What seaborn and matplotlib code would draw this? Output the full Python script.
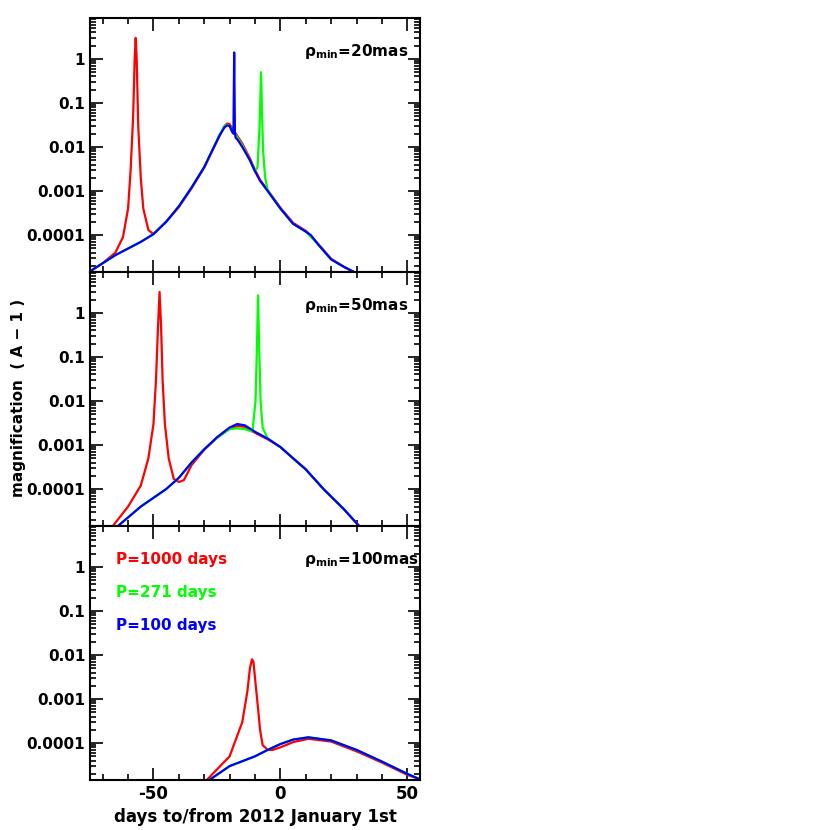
import matplotlib
matplotlib.use("Agg")
import matplotlib.pyplot as plt
import seaborn as sns
import pandas as pd
from matplotlib.ticker import LogLocator, FixedLocator, MultipleLocator, NullFormatter

# ---- data: (x days, A-1) ----
p1_blue_x = [-75,-65,-55,-50,-45,-40,-35,-30,-27,-24,-22,-21,-20,-19,-18.5,-18.2,-17.9,-17.6,-17,-15,-12,-10,-8,-5,0,5,10,12,15,20,25,29]
p1_blue_y = [1.5e-5,3.5e-5,7e-5,1.05e-4,2e-4,4.5e-4,1.2e-3,3.5e-3,8e-3,0.018,0.028,0.031,0.03,0.022,0.02,1.4,0.02,0.016,0.015,0.01,0.005,0.0028,0.0017,1e-3,4e-4,1.8e-4,1.2e-4,1e-4,6e-5,2.8e-5,1.9e-5,1.45e-5]
p1_red_x = [-75,-70,-65,-62,-60,-59,-58,-57.4,-57,-56.6,-56,-55,-54,-52,-50,-45,-40,-35,-30,-27,-24,-22,-21,-20,-18,-15,-12,-10,-8,-5,0,5,10,15,20,25,29]
p1_red_y = [1.5e-5,2.3e-5,4e-5,9e-5,4e-4,3e-3,0.05,1.0,3.0,1.0,0.03,2e-3,4e-4,1.3e-4,1.05e-4,2e-4,4.3e-4,1.15e-3,3.4e-3,7.8e-3,0.018,0.03,0.034,0.033,0.022,0.012,0.0055,0.003,0.0018,1.05e-3,4.2e-4,1.9e-4,1.25e-4,6.2e-5,2.9e-5,1.9e-5,1.45e-5]
p1_green_x = [-75,-65,-55,-50,-45,-40,-35,-30,-27,-24,-22,-21,-20,-18,-15,-12,-10,-9,-8.2,-7.6,-7.2,-6.8,-6,-5,0,5,10,15,20,25,29]
p1_green_y = [1.5e-5,3.5e-5,7e-5,1.05e-4,2e-4,4.5e-4,1.2e-3,3.5e-3,8e-3,0.019,0.03,0.032,0.03,0.02,0.011,0.005,0.0028,0.0035,0.03,0.5,0.05,0.008,0.002,1.05e-3,4e-4,1.8e-4,1.2e-4,6e-5,2.8e-5,1.9e-5,1.45e-5]

p2_blue_x = [-64,-55,-45,-40,-35,-30,-25,-20,-17,-14,-10,-5,0,5,10,17,25,31]
p2_blue_y = [1.45e-5,4e-5,1e-4,1.8e-4,4e-4,8e-4,1.5e-3,2.5e-3,3e-3,2.8e-3,2e-3,1.4e-3,9e-4,5e-4,2.8e-4,1e-4,3.5e-5,1.45e-5]
p2_red_x = [-66,-60,-55,-52,-50,-49,-48.2,-47.6,-47,-46.4,-45.5,-44,-42,-40,-38,-35,-30,-25,-20,-17,-14,-10,-5,0,5,10,17,25,31]
p2_red_y = [1.45e-5,4e-5,1.2e-4,5e-4,3e-3,0.03,0.5,3.0,0.5,0.03,3e-3,5e-4,1.7e-4,1.45e-4,1.6e-4,3.5e-4,7.8e-4,1.45e-3,2.4e-3,2.7e-3,2.6e-3,1.9e-3,1.35e-3,9e-4,5e-4,2.8e-4,1e-4,3.5e-5,1.45e-5]
p2_green_x = [-64,-55,-45,-40,-35,-30,-25,-20,-17,-14,-11,-9.8,-9.2,-8.8,-8.4,-7.8,-7,-5,0,5,10,17,25,31]
p2_green_y = [1.45e-5,4e-5,1e-4,1.8e-4,4e-4,8e-4,1.45e-3,2.3e-3,2.4e-3,2.3e-3,2e-3,0.01,0.2,2.5,0.2,0.01,2.5e-3,1.4e-3,9e-4,5e-4,2.8e-4,1e-4,3.5e-5,1.45e-5]

p3_blue_x = [-28,-20,-10,-5,0,5,11,20,30,40,50,55]
p3_blue_y = [1.45e-5,3e-5,5e-5,7e-5,9.5e-5,1.2e-4,1.35e-4,1.15e-4,7e-5,3.8e-5,2e-5,1.5e-5]
p3_red_x = [-29,-20,-15,-13,-12,-11.2,-10.6,-10,-9,-8,-7,-5,-3,0,5,11,20,30,40,50,55]
p3_red_y = [1.45e-5,5e-5,3e-4,1.5e-3,5e-3,8e-3,7e-3,3e-3,8e-4,2e-4,9e-5,7e-5,7e-5,8e-5,1.05e-4,1.25e-4,1.08e-4,6.5e-5,3.6e-5,1.9e-5,1.5e-5]
p3_green_x = p3_blue_x
p3_green_y = p3_blue_y

panel_labels = ["20mas", "50mas", "100mas"]
legend_labels = ["P=1000 days", "P=271 days", "P=100 days"]
y_ticks = [1e-4, 1e-3, 1e-2, 1e-1, 1]
y_ticklabels = ["0.0001", "0.001", "0.01", "0.1", "1"]
x_ticks = [-50, 0, 50]

colors = {"red": "#ff0000", "green": "#00ff00", "blue": "#0000ff"}
panels = [
    [("red", p1_red_x, p1_red_y), ("green", p1_green_x, p1_green_y), ("blue", p1_blue_x, p1_blue_y)],
    [("red", p2_red_x, p2_red_y), ("green", p2_green_x, p2_green_y), ("blue", p2_blue_x, p2_blue_y)],
    [("red", p3_red_x, p3_red_y), ("green", p3_green_x, p3_green_y), ("blue", p3_blue_x, p3_blue_y)],
]

plt.rcParams["font.family"] = "DejaVu Sans"
plt.rcParams["font.weight"] = "bold"
fig = plt.figure(figsize=(8.3, 8.3), dpi=100)
L, W, H, B = 90/830, 330/830, 254/830, 50/830
for i, series in enumerate(panels):
    ax = fig.add_axes([L, B + (2 - i) * H, W, H])
    for name, xs, ys in series:
        df = pd.DataFrame({"x": xs, "y": ys})
        sns.lineplot(data=df, x="x", y="y", ax=ax, color=colors[name], lw=1.6, sort=False, estimator=None)
    ax.set_yscale("log")
    ax.set_xlim(-75, 55)
    ax.set_ylim(1.45e-5, 8.5)
    ax.yaxis.set_major_locator(FixedLocator(y_ticks))
    ax.set_yticklabels(y_ticklabels, fontsize=11, fontweight="bold")
    ax.yaxis.set_minor_locator(LogLocator(base=10, subs=range(2, 10), numticks=20))
    ax.yaxis.set_minor_formatter(NullFormatter())
    ax.xaxis.set_major_locator(FixedLocator(x_ticks))
    ax.xaxis.set_minor_locator(MultipleLocator(10))
    ax.tick_params(which="both", direction="in", top=True, right=True, width=1.2)
    ax.tick_params(which="major", length=9)
    ax.tick_params(which="minor", length=4)
    for s in ax.spines.values():
        s.set_linewidth(1.5)
    ax.set_ylabel("")
    ax.set_xlabel("")
    if i < 2:
        ax.set_xticklabels([])
    else:
        ax.set_xticklabels([str(t) for t in x_ticks], fontsize=12, fontweight="bold")
        ax.set_xlabel("days to/from 2012 January 1st", fontsize=12, fontweight="bold")
    ax.text(0.65, 0.85, r"$\mathbf{\rho_{min}}$=" + panel_labels[i], transform=ax.transAxes,
            fontsize=11, fontweight="bold")
    if i == 2:
        for k, (lab, c) in enumerate(zip(legend_labels, ["red", "green", "blue"])):
            ax.text(0.08, 0.85 - k * 0.13, lab, transform=ax.transAxes, color=colors[c],
                    fontsize=11, fontweight="bold")
fig.text(0.022, 0.52, "magnification  ( A − 1 )", rotation=90, va="center", ha="center",
         fontsize=11, fontweight="bold")
fig.savefig("out.png", dpi=100)
